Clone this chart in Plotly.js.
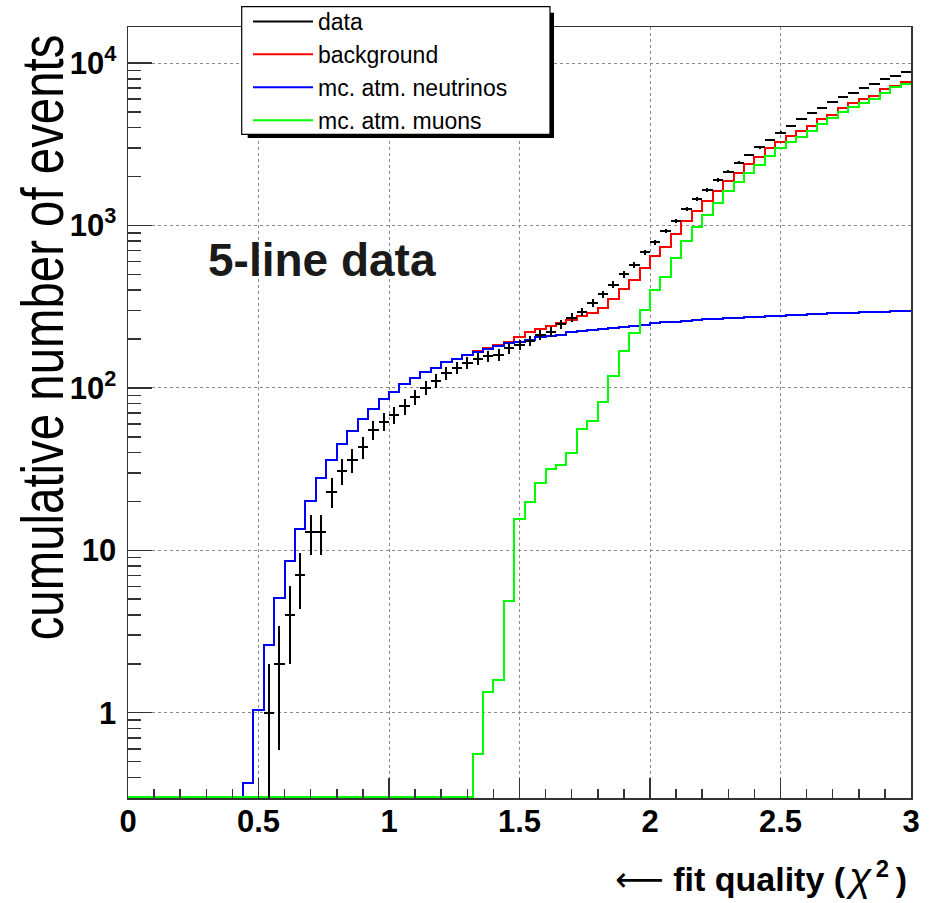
<!DOCTYPE html>
<html>
<head>
<meta charset="utf-8">
<script src="https://cdn.plot.ly/plotly-3.0.1.min.js"></script>
<style>
  html, body { margin: 0; padding: 0; background: #fff; }
  #chart { width: 936px; height: 903px; }
  #chart .scatterlayer .js-line, #chart .errorbar path { shape-rendering: crispEdges; }
</style>
</head>
<body>
<div id="chart"></div>
<script>
// ---------------- DATA ----------------
// histogram bin edges (fit quality, chi^2)
const binEdges = [0.00,0.04,0.08,0.12,0.16,0.20,0.24,0.28,0.32,0.36,0.40,0.44,0.48,0.52,0.56,0.60,0.64,0.68,0.72,0.76,
  0.80,0.84,0.88,0.92,0.96,1.00,1.04,1.08,1.12,1.16,1.20,1.24,1.28,1.32,1.36,1.40,1.44,1.48,1.52,1.56,
  1.60,1.64,1.68,1.72,1.76,1.80,1.84,1.88,1.92,1.96,2.00,2.04,2.08,2.12,2.16,2.20,2.24,2.28,2.32,2.36,
  2.40,2.44,2.48,2.52,2.56,2.60,2.64,2.68,2.72,2.76,2.80,2.84,2.88,2.92,2.96,3.00];

// cumulative counts per bin (75 bins)
const background = [0,0,0,0,0,0,0,0,0,0,0,
  0.37,1.04,2.6,5.1,8.6,13.5,20,28,36,45,54,64,74,85,94,105,115,125,133,145,150,159,168,175,183,
  191,207,220,229,240,252,262,277,288,312,351,405,460,550,649,734,887,1066,1230,1417,1637,1888,2115,2382,
  2653,2986,3281,3556,3816,4100,4505,4786,5268,5650,5985,6300,6890,7225,7680];

const atmNeutrinos = [0,0,0,0,0,0,0,0,0,0,0,
  0.37,1.04,2.6,5.1,8.6,13.5,20,28,36,45,54,64,74,85,94,105,115,125,133,145,150,159,167,174,181,
  188,193,197,205,210,212,220,224,227,232,235,238,242,245,250,254,256,259,262,264,267,269,271,273,
  275,277,279,281,283,285,286,288,290,291,293,294,295,296,297];

const atmMuons = [0,0,0,0,0,0,0,0,0,0,0,0,0,0,0,0,0,0,0,0,0,0,0,0,0,0,0,0,0,0,0,0,0,
  0.56,1.35,1.6,4.9,15.5,19.9,26,31.7,33.5,39.6,56,62.5,82,119,169,217,302,399,484,634,806,974,
  1161,1371,1632,1862,2115,2357,2689,3014,3281,3521,3816,4212,4567,4975,5387,5650,6010,6512,7094,7400];

// data points (bin centres), cumulative counts and their error bars
const dataX = [0.54,0.58,0.62,0.66,0.70,0.74,0.78,0.82,0.86,0.90,0.94,0.98,1.02,1.06,1.10,1.14,1.18,1.22,1.26,1.30,
  1.34,1.38,1.42,1.46,1.50,1.54,1.58,1.62,1.66,1.70,1.74,1.78,1.82,1.86,1.90,1.94,1.98,2.02,2.06,2.10,
  2.14,2.18,2.22,2.26,2.30,2.34,2.38,2.42,2.46,2.50,2.54,2.58,2.62,2.66,2.70,2.74,2.78,2.82,2.86,2.90,2.94,2.98];
const dataY = [1,2,4,7,13,13,23,31,36,43,55,62,68,77,88,100,111,123,133,143,
  151,157,160,175,185,194,212,222,246,271,295,332,377,432,500,571,684,788,925,1071,
  1259,1450,1655,1907,2145,2436,2719,3030,3360,3730,4100,4505,4910,5310,5786,6210,6575,7000,7430,7940,8360,8850];
const dataErr = [1,1.41,2,2.65,3.6,3.6,4.8,5.6,6,6.6,7.4,7.9,8.2,8.8,9.4,10,10.5,11.1,11.5,12,
  12.3,12.5,12.6,13.2,13.6,13.9,14.6,14.9,15.7,16.5,17.2,18.2,19.4,20.8,22.4,23.9,26.2,28.1,30.4,32.7,
  35.5,38.1,40.7,43.7,46.3,49.4,52.1,55,58,61,64,67,70,73,76,79,81,84,86,89,91,94];

// tick labels
const yTickVals = [1,10,100,1000,10000];
const yTickText = ['1','10','10<sup>2</sup>','10<sup>3</sup>','10<sup>4</sup>'];

const seriesNames = ['data','background','mc. atm. neutrinos','mc. atm. muons'];
const yTitle = 'cumulative number of events';

// ---------------- LAYOUT HELPERS ----------------
const W = 936, H = 903, ML = 128, MR = 25, MT = 27, MB = 105;
const PW = W - ML - MR, PH = H - MT - MB;
const px2x = p => (p - ML) / PW;
const py2y = p => (H - MB - p) / PH;
const Y_LOG_RANGE = [-0.525, 4.222];
const Y_FLOOR = Math.pow(10, -0.519);   // empty bins drawn on the axis floor (as ROOT does)
const FONT = 'Liberation Sans, Arial, Helvetica, sans-serif';

function stepY(vals) {
  const ys = vals.map(v => (v > 0 ? v : Y_FLOOR));
  ys.push(ys[ys.length - 1]);
  return ys;
}

const yMinor = [];
for (let e = -1; e <= 4; e++) for (let d = 2; d <= 9; d++) yMinor.push(d * Math.pow(10, e));

const traces = [
  { x: binEdges, y: stepY(background), mode: 'lines', name: seriesNames[1], legendrank: 2,
    line: { shape: 'hv', color: '#ff0000', width: 2 }, hoverinfo: 'skip' },
  { x: binEdges, y: stepY(atmNeutrinos), mode: 'lines', name: seriesNames[2], legendrank: 3,
    line: { shape: 'hv', color: '#0000ff', width: 2 }, hoverinfo: 'skip' },
  { x: binEdges, y: stepY(atmMuons), mode: 'lines', name: seriesNames[3], legendrank: 4,
    line: { shape: 'hv', color: '#00ff00', width: 2 }, hoverinfo: 'skip' },
  { x: dataX, y: dataY, mode: 'markers', name: seriesNames[0], showlegend: false,
    marker: { size: 1, color: '#000' },
    error_y: { type: 'data', array: dataErr, color: '#000', thickness: 2, width: 0 },
    error_x: { type: 'constant', value: 0.02, color: '#000', thickness: 2, width: 0 } },
  // legend entry for the data (drawn as a line sample, like the reference)
  { x: [null], y: [null], mode: 'lines', name: seriesNames[0], legendrank: 1,
    line: { color: '#000', width: 2 } }
];

const axisCommon = {
  ticks: 'inside', tickwidth: 1.5, tickcolor: '#333',
  showline: true, linecolor: '#333', linewidth: 1.5, mirror: true,
  showgrid: true, gridcolor: '#8a8a8a', griddash: 'dot', gridwidth: 1,
  zeroline: false,
  tickfont: { family: FONT, size: 31, weight: 'bold', color: '#000' }
};

const layout = {
  width: W, height: H,
  margin: { l: ML, r: MR, t: MT, b: MB, autoexpand: false },
  paper_bgcolor: '#fff', plot_bgcolor: '#fff',
  font: { family: FONT, color: '#000' },
  showlegend: true,
  legend: {
    x: px2x(248), y: py2y(0), xanchor: 'left', yanchor: 'top',
    bgcolor: 'rgba(0,0,0,0)', borderwidth: 0,
    font: { family: FONT, size: 23, color: '#000' },
    itemwidth: 60, tracegroupgap: 0
  },
  xaxis: Object.assign({}, axisCommon, {
    range: [0, 3], tick0: 0, dtick: 0.5, ticklen: 20, ticklabelstandoff: -5,
    minor: { dtick: 0.1, tick0: 0, ticks: 'inside', ticklen: 9, tickwidth: 1.5, tickcolor: '#333', showgrid: false }
  }),
  yaxis: Object.assign({}, axisCommon, {
    type: 'log', range: Y_LOG_RANGE, tickmode: 'array', tickvals: yTickVals, ticktext: yTickText,
    ticklen: 24, ticklabelstandoff: 4,
    minor: { tickmode: 'array', tickvals: yMinor, ticks: 'inside', ticklen: 13, tickwidth: 1.5, tickcolor: '#333', showgrid: false }
  }),
  shapes: [
    // legend shadow and box (ROOT style)
    { type: 'rect', xref: 'paper', yref: 'paper', layer: 'above',
      x0: px2x(247.7), x1: px2x(554), y0: py2y(138), y1: py2y(12.7),
      fillcolor: '#000', line: { width: 0 } },
    { type: 'rect', xref: 'paper', yref: 'paper', layer: 'above',
      x0: px2x(241.7), x1: px2x(550), y0: py2y(134.3), y1: py2y(6.7),
      fillcolor: '#fff', line: { color: '#000', width: 1.2 } }
  ],
  annotations: [
    { text: '5-line data', xref: 'paper', yref: 'paper', x: px2x(321.5), y: py2y(260),
      xanchor: 'center', yanchor: 'middle', showarrow: false,
      font: { family: FONT, size: 46, weight: 'bold', color: '#1a1a1a' } },
    { text: '<span style="font-weight:normal;font-size:34px;font-family:DejaVu Sans">\u27f5</span> fit quality (<span style="font-size:14px"> </span><span style="font-style:italic;font-weight:normal;font-size:41px">\u03c7</span><span style="font-size:16px"> </span><sup>2</sup><span style="font-size:24px"> </span>)',
      xref: 'paper', yref: 'paper', x: px2x(909), y: py2y(877),
      xanchor: 'right', yanchor: 'middle', showarrow: false,
      font: { family: FONT, size: 34, weight: 'bold', color: '#000' } },
    { text: yTitle, xref: 'paper', yref: 'paper',
      x: px2x(42), y: py2y(338), xanchor: 'center', yanchor: 'middle', textangle: -90, showarrow: false,
      font: { family: FONT, size: 60, color: '#000' } }
  ]
};

Plotly.newPlot('chart', traces, layout, { displayModeBar: false, staticPlot: true }).then(gd => {
  // the reference's y title is a horizontally condensed Helvetica: squeeze it along its baseline
  gd.querySelectorAll('.annotation-text').forEach(t => {
    if (t.textContent === yTitle) {
      t.style.transformBox = 'fill-box';
      t.style.transformOrigin = 'center';
      t.style.transform = 'scaleX(0.79)';
    }
  });
});
</script>
</body>
</html>
